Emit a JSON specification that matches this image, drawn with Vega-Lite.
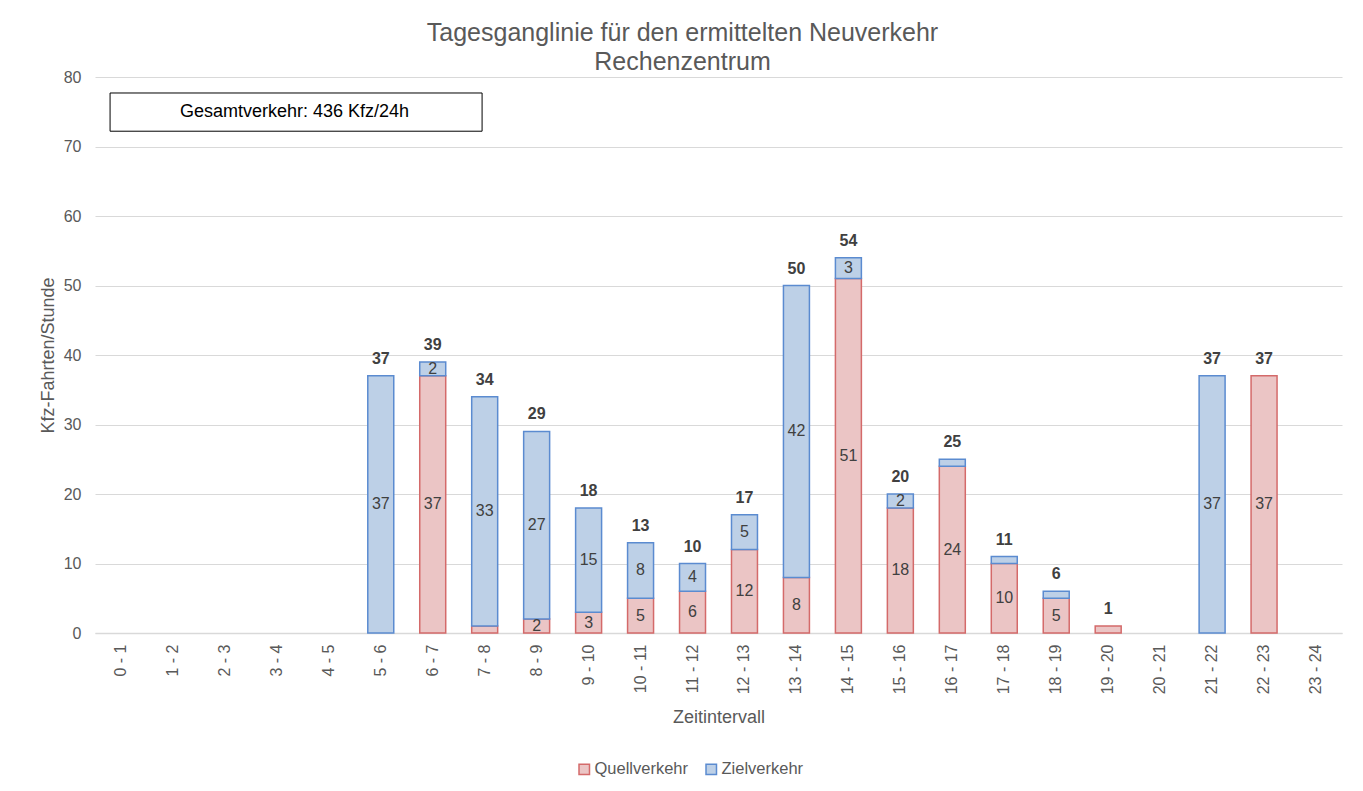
{
  "$schema": "https://vega.github.io/schema/vega-lite/v6.json",
  "autosize": {"type": "none"},
  "width": 1247,
  "height": 556,
  "padding": {"left": 95, "top": 77, "right": 21, "bottom": 158},
  "background": "white",
  "title": {
    "text": ["Tagesganglinie für den ermittelten Neuverkehr", "Rechenzentrum"],
    "font": "Liberation Sans",
    "fontSize": 25,
    "fontWeight": "normal",
    "color": "#595959",
    "lineHeight": 29,
    "offset": -6,
    "dx": -36,
    "anchor": "middle"
  },
  "config": {
    "font": "Liberation Sans",
    "view": {"stroke": null},
    "axisY": {
      "title": "Kfz-Fahrten/Stunde",
      "titleFont": "Liberation Sans",
      "titleFontSize": 18,
      "titleFontWeight": "normal",
      "titleColor": "#595959",
      "titlePadding": 6,
      "labelFontSize": 16,
      "labelColor": "#595959",
      "labelPadding": 14,
      "ticks": false,
      "domain": false,
      "gridColor": "#d9d9d9",
      "gridWidth": 1
    }
  },
  "datasets": {
    "traffic": [
      {"interval": "0 - 1", "type": "Quellverkehr", "value": 0},
      {"interval": "0 - 1", "type": "Zielverkehr", "value": 0},
      {"interval": "1 - 2", "type": "Quellverkehr", "value": 0},
      {"interval": "1 - 2", "type": "Zielverkehr", "value": 0},
      {"interval": "2 - 3", "type": "Quellverkehr", "value": 0},
      {"interval": "2 - 3", "type": "Zielverkehr", "value": 0},
      {"interval": "3 - 4", "type": "Quellverkehr", "value": 0},
      {"interval": "3 - 4", "type": "Zielverkehr", "value": 0},
      {"interval": "4 - 5", "type": "Quellverkehr", "value": 0},
      {"interval": "4 - 5", "type": "Zielverkehr", "value": 0},
      {"interval": "5 - 6", "type": "Quellverkehr", "value": 0},
      {"interval": "5 - 6", "type": "Zielverkehr", "value": 37},
      {"interval": "6 - 7", "type": "Quellverkehr", "value": 37},
      {"interval": "6 - 7", "type": "Zielverkehr", "value": 2},
      {"interval": "7 - 8", "type": "Quellverkehr", "value": 1},
      {"interval": "7 - 8", "type": "Zielverkehr", "value": 33},
      {"interval": "8 - 9", "type": "Quellverkehr", "value": 2},
      {"interval": "8 - 9", "type": "Zielverkehr", "value": 27},
      {"interval": "9 - 10", "type": "Quellverkehr", "value": 3},
      {"interval": "9 - 10", "type": "Zielverkehr", "value": 15},
      {"interval": "10 - 11", "type": "Quellverkehr", "value": 5},
      {"interval": "10 - 11", "type": "Zielverkehr", "value": 8},
      {"interval": "11 - 12", "type": "Quellverkehr", "value": 6},
      {"interval": "11 - 12", "type": "Zielverkehr", "value": 4},
      {"interval": "12 - 13", "type": "Quellverkehr", "value": 12},
      {"interval": "12 - 13", "type": "Zielverkehr", "value": 5},
      {"interval": "13 - 14", "type": "Quellverkehr", "value": 8},
      {"interval": "13 - 14", "type": "Zielverkehr", "value": 42},
      {"interval": "14 - 15", "type": "Quellverkehr", "value": 51},
      {"interval": "14 - 15", "type": "Zielverkehr", "value": 3},
      {"interval": "15 - 16", "type": "Quellverkehr", "value": 18},
      {"interval": "15 - 16", "type": "Zielverkehr", "value": 2},
      {"interval": "16 - 17", "type": "Quellverkehr", "value": 24},
      {"interval": "16 - 17", "type": "Zielverkehr", "value": 1},
      {"interval": "17 - 18", "type": "Quellverkehr", "value": 10},
      {"interval": "17 - 18", "type": "Zielverkehr", "value": 1},
      {"interval": "18 - 19", "type": "Quellverkehr", "value": 5},
      {"interval": "18 - 19", "type": "Zielverkehr", "value": 1},
      {"interval": "19 - 20", "type": "Quellverkehr", "value": 1},
      {"interval": "19 - 20", "type": "Zielverkehr", "value": 0},
      {"interval": "20 - 21", "type": "Quellverkehr", "value": 0},
      {"interval": "20 - 21", "type": "Zielverkehr", "value": 0},
      {"interval": "21 - 22", "type": "Quellverkehr", "value": 0},
      {"interval": "21 - 22", "type": "Zielverkehr", "value": 37},
      {"interval": "22 - 23", "type": "Quellverkehr", "value": 37},
      {"interval": "22 - 23", "type": "Zielverkehr", "value": 0},
      {"interval": "23 - 24", "type": "Quellverkehr", "value": 0},
      {"interval": "23 - 24", "type": "Zielverkehr", "value": 0}
    ]
  },
  "data": {"name": "traffic"},
  "encoding": {
    "x": {
      "field": "interval",
      "type": "nominal",
      "scale": {
        "domain": ["0 - 1","1 - 2","2 - 3","3 - 4","4 - 5","5 - 6","6 - 7","7 - 8","8 - 9","9 - 10","10 - 11","11 - 12","12 - 13","13 - 14","14 - 15","15 - 16","16 - 17","17 - 18","18 - 19","19 - 20","20 - 21","21 - 22","22 - 23","23 - 24"],
        "paddingInner": 0.5,
        "paddingOuter": 0.25
      },
      "axis": {
        "title": "Zeitintervall",
        "titleFont": "Liberation Sans",
        "titleFontSize": 18,
        "titleFontWeight": "normal",
        "titleColor": "#595959",
        "titlePadding": 15,
        "labelAngle": -90,
        "labelFontSize": 16,
        "labelColor": "#595959",
        "labelPadding": 11,
        "ticks": false,
        "domainColor": "#d9d9d9",
        "domainWidth": 1.5,
        "grid": false
      }
    }
  },
  "layer": [
    {
      "transform": [{"filter": "datum.value > 0"}],
      "mark": {"type": "bar", "strokeWidth": 1.5},
      "encoding": {
        "y": {
          "field": "value",
          "type": "quantitative",
          "aggregate": "sum",
          "stack": "zero",
          "scale": {"domain": [0, 80]},
          "axis": {"values": [0, 10, 20, 30, 40, 50, 60, 70, 80], "title": "Kfz-Fahrten/Stunde"}
        },
        "fill": {
          "field": "type",
          "type": "nominal",
          "scale": {"domain": ["Quellverkehr", "Zielverkehr"], "range": ["#ebc5c5", "#bdd0e7"]},
          "legend": {
            "title": null,
            "orient": "none",
            "direction": "horizontal",
            "legendX": 481,
            "legendY": 684,
            "symbolType": "square",
            "symbolSize": 110,
            "symbolStrokeWidth": 1.5,
            "labelFontSize": 16.5,
            "labelColor": "#595959",
            "labelOffset": 2,
            "columnPadding": 14
          }
        },
        "stroke": {
          "field": "type",
          "type": "nominal",
          "scale": {"domain": ["Quellverkehr", "Zielverkehr"], "range": ["#d46a6a", "#5b8bd0"]},
          "legend": null
        },
        "order": {"field": "type", "sort": "ascending"}
      }
    },
    {
      "transform": [
        {"stack": "value", "groupby": ["interval"], "sort": [{"field": "type", "order": "ascending"}], "as": ["v0", "v1"]},
        {"filter": "datum.value >= 2"},
        {"calculate": "(datum.v0 + datum.v1) / 2", "as": "mid"}
      ],
      "mark": {"type": "text", "fontSize": 16, "color": "#404040", "baseline": "middle"},
      "encoding": {
        "y": {"field": "mid", "type": "quantitative", "axis": {"values": [0, 10, 20, 30, 40, 50, 60, 70, 80], "title": "Kfz-Fahrten/Stunde"}},
        "text": {"field": "value", "type": "quantitative"}
      }
    },
    {
      "transform": [
        {"aggregate": [{"op": "sum", "field": "value", "as": "total"}], "groupby": ["interval"]},
        {"filter": "datum.total > 0"}
      ],
      "mark": {"type": "text", "fontSize": 16, "fontWeight": "bold", "color": "#404040", "baseline": "middle", "dy": -17},
      "encoding": {
        "y": {"field": "total", "type": "quantitative", "axis": {"values": [0, 10, 20, 30, 40, 50, 60, 70, 80], "title": "Kfz-Fahrten/Stunde"}},
        "text": {"field": "total", "type": "quantitative"}
      }
    },
    {
      "data": {"values": [{}]},
      "mark": {"type": "rect", "fill": "white", "stroke": "black", "strokeWidth": 1},
      "encoding": {
        "x": {"datum": "0 - 1", "bandPosition": 0.08},
        "x2": {"datum": "7 - 8", "bandPosition": 0.4},
        "y": {"datum": 77.7, "type": "quantitative", "axis": {"values": [0, 10, 20, 30, 40, 50, 60, 70, 80], "title": "Kfz-Fahrten/Stunde"}},
        "y2": {"datum": 72.2}
      }
    },
    {
      "data": {"values": [{}]},
      "mark": {"type": "text", "text": "Gesamtverkehr: 436 Kfz/24h", "font": "Liberation Sans", "fontSize": 18, "color": "#000000", "align": "left", "baseline": "middle"},
      "encoding": {
        "x": {"datum": "1 - 2", "bandPosition": 0.77},
        "y": {"datum": 75, "type": "quantitative", "axis": {"values": [0, 10, 20, 30, 40, 50, 60, 70, 80], "title": "Kfz-Fahrten/Stunde"}}
      }
    }
  ]
}
